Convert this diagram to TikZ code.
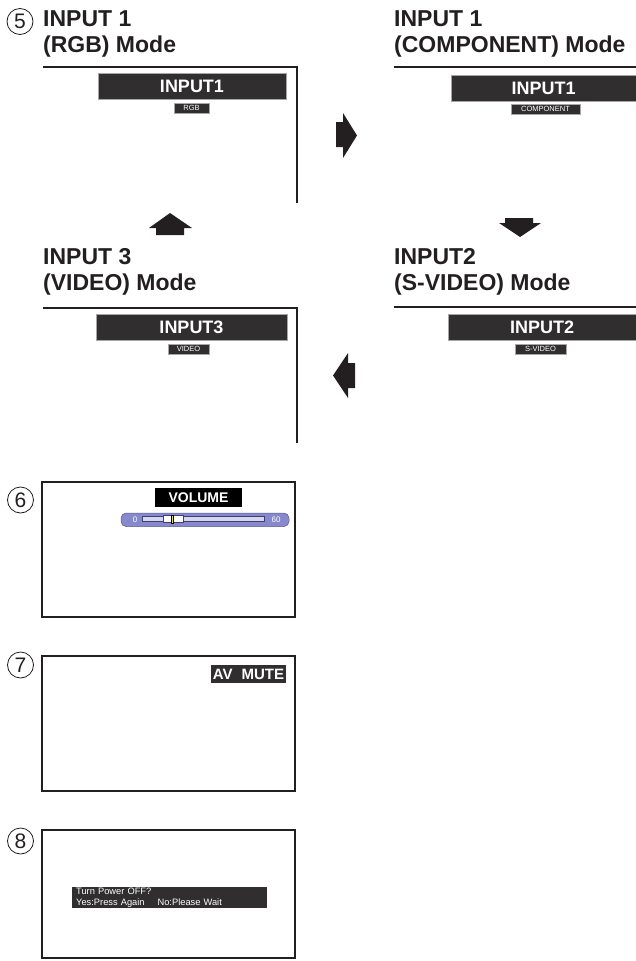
\documentclass[tikz,border=0pt]{standalone}
\usepackage{fontspec}
\setmainfont{Liberation Sans}
\definecolor{ink}{RGB}{35,31,32}
\definecolor{bardark}{RGB}{48,46,47}
\definecolor{lav}{RGB}{136,136,204}
\definecolor{lavdark}{RGB}{90,90,160}
\definecolor{tracklight}{RGB}{214,214,240}
\tikzset{
  title/.style={font=\fontsize{23}{25}\selectfont\bfseries, text=ink, anchor=base west, inner sep=0pt},
  scrline/.style={draw=ink, line width=1.3pt},
  numcirc/.style={circle, draw=ink, line width=0.8pt, minimum size=26pt, inner sep=0pt, font=\fontsize{21}{21}\selectfont, text=ink},
  bigbar/.style={fill=bardark, draw=gray!70, line width=0.4pt, inner sep=0pt, minimum height=26pt, text=white, font=\fontsize{18}{18}\selectfont\bfseries},
  tagbox/.style={fill=bardark, draw=gray!70, line width=0.4pt, inner sep=0pt, minimum height=10pt, text=white, font=\fontsize{7.5}{7.5}\selectfont},
  arrowfill/.style={fill=ink, draw=none},
  osd/.style={fill=black, inner sep=0pt, text=white, font=\fontsize{14}{14}\selectfont\bfseries}
}
\begin{document}
\begin{tikzpicture}[x=1pt,y=-1pt]
\useasboundingbox (0,0) rectangle (636,961);

% ---- 5: INPUT 1 (RGB)
\node[numcirc] (c5) at (20,21.5) {5};
\node[title] (t1a) at (43,27) {INPUT 1};
\node[title] (t1b) at (43,52) {(RGB) Mode};
\draw[scrline] (43,67) -- (297,67) -- (297,203);
\node[bigbar, minimum width=188pt] (b1) at (192,86) {INPUT1};
\node[tagbox, minimum width=35pt] (g1) at (191.5,108) {RGB};

% ---- INPUT 1 (COMPONENT)
\node[title] (tca) at (394,27) {INPUT 1};
\node[title] (tcb) at (394,52) {(COMPONENT) Mode};
\draw[scrline] (394,67) -- (636,67);
\node[bigbar, minimum width=185pt] (bc) at (543.5,88) {INPUT1};
\node[tagbox, minimum width=69pt] (gc) at (545.5,109) {COMPONENT};

% ---- INPUT 3 (VIDEO)
\node[title] (t3a) at (43,264) {INPUT 3};
\node[title] (t3b) at (43,290) {(VIDEO) Mode};
\draw[scrline] (43,308) -- (297,308) -- (297,443);
\node[bigbar, minimum width=191pt] (b3) at (191.5,327.5) {INPUT3};
\node[tagbox, minimum width=41pt] (g3) at (188.5,349) {VIDEO};

% ---- INPUT2 (S-VIDEO)
\node[title] (t2a) at (394,264) {INPUT2};
\node[title] (t2b) at (394,290) {(S-VIDEO) Mode};
\draw[scrline] (394,307) -- (636,307);
\node[bigbar, minimum width=188pt] (b2) at (542,327.5) {INPUT2};
\node[tagbox, minimum width=51pt] (g2) at (540.5,349) {S-VIDEO};

% ---- block arrows
\fill[arrowfill] (336,122) -- (343,122) -- (343,113) -- (357,135.5) -- (343,158) -- (343,147) -- (336,147) -- cycle;
\fill[arrowfill] (505,218) -- (533,218) -- (533,223) -- (541,223) -- (520,237) -- (499,223) -- (505,223) -- cycle;
\fill[arrowfill] (355,363) -- (348,363) -- (348,353) -- (333,375.5) -- (348,398) -- (348,388) -- (355,388) -- cycle;
\fill[arrowfill] (156,235) -- (156,228) -- (149,228) -- (170,213) -- (192,228) -- (184,228) -- (184,235) -- cycle;

% ---- 6: VOLUME
\node[numcirc] (c6) at (20.5,500) {6};
\draw[scrline] (42,482) rectangle (295,617);
\node[osd, minimum width=87pt, minimum height=19pt] (vol) at (198.5,497.5) {VOLUME};
\draw[fill=lav, draw=lavdark, line width=0.5pt, rounded corners=5pt] (121,513) rectangle (289,526.5);
\node[text=white, inner sep=0pt, font=\fontsize{8}{8}\selectfont] (v0) at (135,519.8) {0};
\node[text=white, inner sep=0pt, font=\fontsize{8}{8}\selectfont] (v60) at (276,519.8) {60};
\draw[fill=tracklight, draw=lavdark!70!black, line width=0.6pt] (142,516.5) rectangle (264,521.5);
\draw[fill=white, draw=lavdark!70!black, line width=0.6pt] (163,515.5) rectangle (183,522.5);
\draw[fill=yellow!90!orange, draw=black, line width=0.4pt] (171,515) rectangle (173.5,523);

% ---- 7: AV MUTE
\node[numcirc] (c7) at (20.5,665) {7};
\draw[scrline] (42,656) rectangle (295,791);
\node[osd, fill=bardark, minimum width=75pt, minimum height=18pt, font=\fontsize{15}{15}\selectfont\bfseries] (mute) at (248.5,674) {AV\hspace{9pt}MUTE};

% ---- 8: Power off
\node[numcirc] (c8) at (20.5,841) {8};
\draw[scrline] (42,830) rectangle (295,958);
\node[fill=bardark, anchor=north west, minimum width=195pt, minimum height=21pt, text width=187pt, align=left, inner xsep=4pt, inner ysep=1pt, text=white, font=\fontsize{9.3}{10.5}\selectfont] (pwr) at (72,887) {Turn Power OFF?\\Yes:Press Again\hspace{13pt}No:Please Wait};
\end{tikzpicture}
\end{document}
